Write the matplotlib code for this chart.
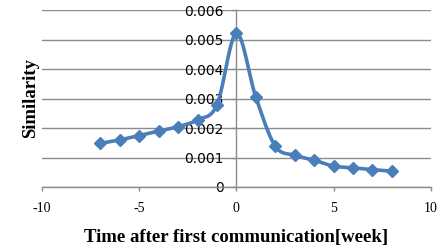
import numpy as np
import matplotlib
matplotlib.use("Agg")
import matplotlib.pyplot as plt

weeks = [-7, -6, -5, -4, -3, -2, -1, 0, 1, 2, 3, 4, 5, 6, 7, 8]
similarity = [0.00148, 0.00160, 0.00175, 0.00190, 0.00205, 0.00228, 0.00279,
              0.00522, 0.00305, 0.00139, 0.00108, 0.00091, 0.00071, 0.00065,
              0.00059, 0.00054]
x_ticks = [-10, -5, 0, 5, 10]
y_ticks = [0, 0.001, 0.002, 0.003, 0.004, 0.005, 0.006]
y_ticklabels = ["0", "0.001", "0.002", "0.003", "0.004", "0.005", "0.006"]

serif = ["Liberation Serif", "DejaVu Serif"]
color = "#4A7EBB"


def smooth(xs, ys, n=30):
    # Catmull-Rom style smoothing (like Excel's smoothed line) through the data points
    xs = np.asarray(xs, float)
    ys = np.asarray(ys, float)
    px = np.concatenate([[xs[0]], xs, [xs[-1]]])
    py = np.concatenate([[ys[0]], ys, [ys[-1]]])
    outx, outy = [], []
    t = np.linspace(0, 1, n)
    for i in range(1, len(px) - 2):
        p0x, p1x, p2x, p3x = px[i - 1], px[i], px[i + 1], px[i + 2]
        p0y, p1y, p2y, p3y = py[i - 1], py[i], py[i + 1], py[i + 2]
        c1x = p1x + (p2x - p0x) / 6
        c1y = p1y + (p2y - p0y) / 6
        c2x = p2x - (p3x - p1x) / 6
        c2y = p2y - (p3y - p1y) / 6
        bx = (1 - t) ** 3 * p1x + 3 * (1 - t) ** 2 * t * c1x + 3 * (1 - t) * t ** 2 * c2x + t ** 3 * p2x
        by = (1 - t) ** 3 * p1y + 3 * (1 - t) ** 2 * t * c1y + 3 * (1 - t) * t ** 2 * c2y + t ** 3 * p2y
        outx.extend(bx)
        outy.extend(by)
    return np.array(outx), np.array(outy)


fig = plt.figure(figsize=(4.45, 2.49), dpi=100)
ax = fig.add_axes([0.0944, 0.249, 0.8736, 0.709])

sx, sy = smooth(weeks, similarity)
ax.plot(sx, sy, color=color, lw=2.6, zorder=3, solid_capstyle="round")
ax.plot(weeks, similarity, linestyle="none", marker="D", markersize=6,
        color=color, zorder=4)

ax.set_xlim(-10, 10)
ax.set_ylim(0, 0.006)
ax.set_xticks(x_ticks)
ax.set_xticklabels([str(v) for v in x_ticks], fontfamily=serif, fontsize=10)
ax.set_yticks(y_ticks)
ax.set_yticklabels(y_ticklabels, fontfamily=serif, fontsize=10)

ax.grid(axis="y", color="#8C8C8C", lw=1.0)
ax.set_axisbelow(True)

for s in ["top", "right"]:
    ax.spines[s].set_visible(False)
ax.spines["left"].set_position(("data", 0))
ax.spines["left"].set_color("#8C8C8C")
ax.spines["bottom"].set_color("#8C8C8C")
ax.spines["left"].set_linewidth(1.0)
ax.spines["bottom"].set_linewidth(1.0)

ax.tick_params(axis="x", direction="out", length=3, width=1, color="#8C8C8C", pad=8)
ax.tick_params(axis="y", direction="out", length=3, width=1, color="#8C8C8C", pad=6)

fig.text(236.5 / 445, 1 - 237 / 249, "Time after first communication[week]", ha="center",
         va="center", fontfamily=serif, fontsize=13.5, fontweight="bold")
fig.text(31 / 445, 1 - 98.5 / 249, "Similarity", ha="center", va="center",
         rotation=90, fontfamily=serif, fontsize=13.5, fontweight="bold")

fig.savefig("out.png", dpi=100)
